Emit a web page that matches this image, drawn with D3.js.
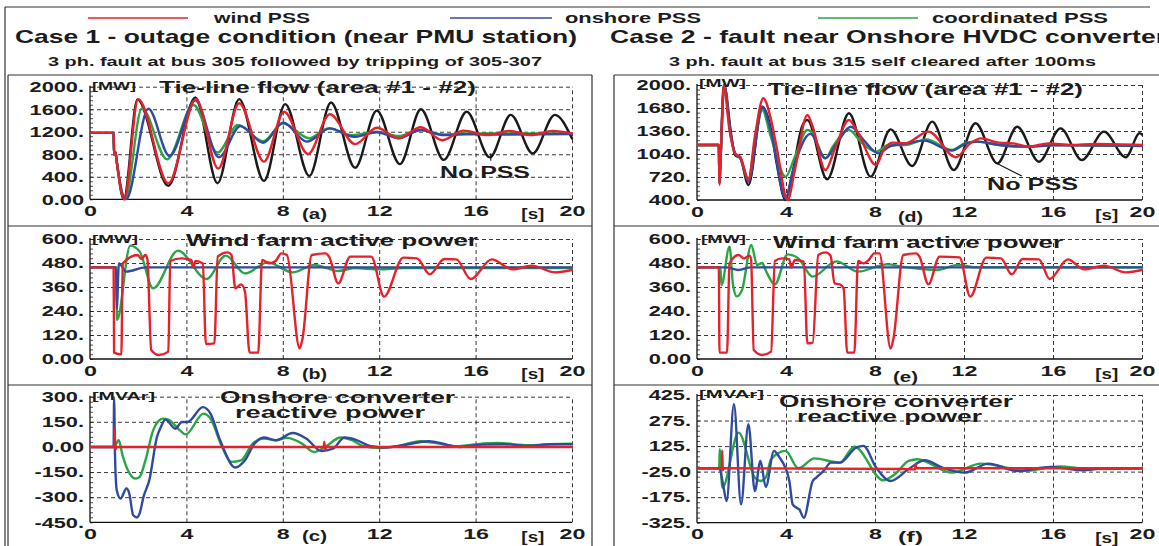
<!DOCTYPE html>
<html><head><meta charset="utf-8">
<script src="https://cdn.jsdelivr.net/npm/d3@7"></script>
<style>
body{margin:0;background:#fff}
svg{display:block}
text{font-family:"Liberation Sans",Arial,sans-serif;font-weight:bold;fill:#1c1c1c}
</style>
</head><body>
<svg id="c" width="1159" height="546"></svg>
<script>
// ---------------- DATA ----------------
const seriesNames = ["wind PSS", "onshore PSS", "coordinated PSS"];
const xTickVals = [0, 4, 8, 12, 16, 20];
const xTickLabels = ["0", "4", "8", "12", "16", "20"];

const yTicksA = [2000, 1600, 1200, 800, 400, 0];
const yLabelsA = ["2000.", "1600.", "1200.", "800.", "400.", "0.00"];
const yTicksB = [600, 480, 360, 240, 120, 0];
const yLabelsB = ["600.", "480.", "360.", "240.", "120.", "0.00"];
const yTicksC = [300, 150, 0, -150, -300, -450];
const yLabelsC = ["300.", "150.", "0.00", "-150.", "-300.", "-450."];
const yTicksD = [2000, 1680, 1360, 1040, 720, 400];
const yLabelsD = ["2000.", "1680.", "1360.", "1040.", "720.", "400."];
const yTicksF = [425, 275, 125, -25, -175, -325];
const yLabelsF = ["425.", "275.", "125.", "-25.0", "-175.", "-325."];

// (a) tie-line flow, case 1  [t(s), MW]
const aNoPss = [[0,1180],[0.98,1180],[1.0,790],[1.06,830],[1.1,700],[1.4,0],[1.97,1775],[3.25,240],[4.37,1810],[5.29,285],[6.19,1780],[7.22,325],[8.1,1690],[9.1,415],[10.0,1720],[11.0,560],[11.9,1575],[12.86,625],[13.73,1600],[14.68,700],[15.63,1555],[16.59,745],[17.46,1500],[18.37,815],[19.29,1500],[20,1080]];
const aWind = [[0,1180],[0.98,1180],[1.0,790],[1.06,830],[1.1,700],[1.42,0],[2.0,1780],[3.25,285],[4.4,1780],[5.32,545],[6.19,1705],[7.22,670],[8.05,1555],[9.05,805],[9.95,1510],[11.0,980],[11.9,1270],[12.8,1085],[13.73,1280],[14.6,1050],[15.5,1220],[16.5,1140],[17.4,1215],[18.3,1140],[19.2,1215],[20,1170]];
const aOnshore = [[0,1180],[0.98,1180],[1.0,790],[1.06,830],[1.1,700],[1.5,0],[2.42,1610],[3.3,770],[4.37,1760],[5.35,745],[6.24,1300],[7.19,1005],[8.02,1360],[9.0,1025],[9.95,1260],[10.95,1110],[11.9,1190],[12.8,1085],[13.73,1230],[14.68,1140],[15.63,1155],[16.5,1150],[20,1160]];
const aCoord = [[0,1180],[0.98,1180],[1.0,790],[1.06,830],[1.1,700],[1.45,0],[2.15,1615],[3.2,710],[4.29,1675],[5.29,830],[6.14,1320],[7.19,1030],[8.0,1350],[9.1,1085],[9.9,1260],[10.87,1140],[11.9,1200],[12.8,1125],[13.73,1230],[14.68,1150],[15.6,1170],[20,1170]];
const aPointer = [[16.63,816],[16.63,686]];

// (b) wind farm active power, case 1  [t, MW]
const bWind = [[0,458],[0.98,458],[1.0,32],[1.3,23],[1.36,478],[1.98,520],[2.13,500],[2.3,520],[2.38,500],[2.54,45],[2.86,20],[3.25,37],[3.33,490],[3.8,503],[4.2,495],[4.29,457],[4.38,490],[4.68,478],[4.81,75],[5.16,78],[5.3,512],[5.71,533],[5.87,520],[6.03,353],[6.27,373],[6.43,337],[6.62,32],[6.98,32],[7.14,495],[7.45,478],[7.7,490],[7.94,528],[8.17,520],[8.7,53],[8.82,103],[9.2,520],[9.76,528],[9.92,512],[10.3,378],[10.8,512],[11.67,512],[12.2,312],[13.0,507],[13.57,503],[14.1,423],[14.7,500],[15.2,498],[15.8,400],[16.67,498],[17.54,448],[18.33,467],[19.3,433],[20,445]];
const bOnshore = [[0,458],[1.08,458],[1.11,253],[1.2,478],[1.5,437],[2.3,458],[20,458]];
const bCoord = [[0,458],[1.1,458],[1.12,195],[1.67,567],[2.06,537],[2.62,353],[3.65,542],[4.84,400],[5.63,517],[6.43,428],[7.38,483],[8.41,433],[9.3,470],[10.3,440],[11.0,455],[12.0,448],[13.0,455],[20,455]];

// (c) onshore converter reactive power, case 1  [t, MVAr]
const cWind = [[0,0],[1.0,0],[1.02,110],[1.05,-16],[1.1,0],[9.7,0],[9.72,30],[9.76,-16],[9.8,0],[20,0]];
const cOnshore = [[0,0],[0.98,0],[1.0,290],[1.04,-60],[1.11,-258],[1.27,-308],[1.51,-248],[1.63,-278],[1.79,-407],[1.95,-421],[2.06,-397],[2.22,-298],[2.46,-199],[2.78,60],[2.94,119],[3.13,163],[3.54,109],[3.81,149],[4.05,149],[4.68,238],[5.0,199],[5.4,40],[6.03,-123],[6.43,-80],[6.83,20],[7.22,56],[7.7,40],[8.41,83],[8.97,50],[9.6,-24],[10.08,-10],[10.56,56],[11.0,44],[11.67,4],[12.3,-4],[13.0,10],[14.05,34],[14.8,14],[15.3,0],[16.27,14],[17.2,16],[18.2,6],[19.1,16],[20,16]];
const cCoord = [[0,0],[1.0,0],[1.19,40],[1.35,-50],[1.9,-189],[2.06,-179],[2.3,-80],[2.62,99],[3.02,169],[3.25,163],[3.73,99],[3.97,75],[4.71,199],[5.0,169],[5.48,0],[5.87,-89],[6.27,-80],[6.75,20],[7.22,50],[7.7,40],[8.17,54],[8.8,20],[9.29,-30],[9.76,0],[10.4,56],[10.87,40],[11.35,4],[12.0,-6],[12.8,6],[13.7,34],[14.5,20],[15.15,4],[16.27,20],[16.9,24],[18.2,10],[19.1,16],[20,20]];

// (d) tie-line flow, case 2  [t, MW]
const dNoPss = [[0,1165],[0.98,1165],[1.01,632],[1.05,900],[1.22,2000],[1.54,1304],[1.71,1026],[1.95,980],[2.31,609],[2.93,1698],[3.33,1374],[3.58,910],[3.98,400],[4.23,678],[4.72,1420],[4.96,1513],[5.85,688],[6.83,1606],[7.8,725],[8.7,1383],[9.67,873],[10.57,1490],[11.54,817],[12.52,1467],[13.5,910],[14.39,1420],[15.37,933],[16.34,1397],[17.3,956],[18.29,1351],[19.27,994],[19.9,1330],[20,1310]];
const dWind = [[0,1165],[0.98,1165],[1.01,609],[1.05,900],[1.2,2000],[1.46,1374],[1.71,1049],[1.95,1000],[2.31,678],[2.6,1281],[2.98,1815],[3.33,1513],[3.6,1100],[4.07,400],[4.4,817],[4.96,1583],[5.2,1420],[5.77,817],[6.18,1096],[6.83,1513],[7.24,1330],[8.05,887],[8.39,1096],[8.78,1198],[9.35,1188],[10.4,1351],[11.63,994],[12.28,1188],[12.76,1258],[13.57,1198],[14.2,1188],[14.9,1142],[15.8,1188],[16.8,1165],[17.9,1180],[20,1165]];
const dOnshore = [[0,1165],[0.98,1165],[1.01,632],[1.05,900],[1.22,2000],[1.5,1330],[1.71,1049],[1.95,980],[2.31,655],[2.94,1698],[3.33,1350],[3.98,423],[4.3,800],[5.1,1320],[5.77,980],[6.3,1200],[6.91,1420],[7.5,1230],[8.14,1049],[8.7,1150],[9.5,1190],[10.2,1226],[11.46,1087],[12.1,1188],[12.6,1212],[13.6,1165],[14.9,1142],[16,1160],[20,1155]];
const dCoord = [[0,1165],[0.98,1165],[1.01,632],[1.05,900],[1.22,2000],[1.5,1330],[1.71,1049],[1.95,980],[2.31,701],[2.6,1200],[2.94,1652],[3.3,1300],[3.98,725],[4.4,1000],[4.96,1374],[5.15,1350],[5.77,980],[6.1,1140],[6.83,1374],[7.4,1200],[8.05,1073],[8.6,1165],[9.35,1165],[10.3,1244],[11.46,1096],[12.1,1198],[12.6,1212],[13.6,1165],[14.9,1142],[16.0,1165],[20,1151]];
const dPointer = [[13.44,915],[14.6,734]];

// (e) wind farm active power, case 2  [t, MW]
const eWind = [[0,458],[0.98,458],[1.01,32],[1.35,32],[1.46,478],[1.87,520],[2.1,503],[2.36,517],[2.43,500],[2.55,45],[2.93,20],[3.33,37],[3.5,490],[3.82,503],[4.15,498],[4.23,457],[4.4,495],[4.8,487],[4.96,78],[5.2,82],[5.45,520],[5.77,533],[6.0,517],[6.18,378],[6.42,373],[6.59,353],[6.75,32],[7.07,32],[7.24,490],[7.48,478],[7.72,495],[7.97,528],[8.2,528],[8.7,53],[8.83,103],[9.27,520],[9.84,528],[10.0,512],[10.4,373],[10.9,512],[11.8,508],[12.28,312],[13.0,507],[13.66,503],[14.15,423],[14.63,500],[15.37,498],[15.85,400],[16.67,498],[17.4,448],[18.3,467],[19.27,433],[20,445]];
const eOnshore = [[0,458],[1.3,458],[1.87,445],[2.4,458],[20,458]];
const eCoord = [[0,458],[1.05,458],[1.1,370],[1.46,562],[1.62,370],[1.79,313],[2.03,347],[2.44,570],[2.7,470],[2.93,480],[3.1,440],[3.5,373],[4.07,523],[4.55,503],[5.2,412],[6.26,488],[7.24,437],[8.54,473],[9.3,460],[10.8,445],[11.7,470],[12.6,458],[20,458]];

// (f) onshore converter reactive power, case 2  [t, MVAr]
const fWind = [[0,-5],[1.0,-5],[1.12,-5],[1.13,100],[1.16,-17],[1.2,-5],[9.3,-10],[9.8,-12],[9.82,18],[9.86,-5],[20,-5]];
const fOnshore = [[0,-5],[1.0,-5],[1.17,-100],[1.33,-198],[1.66,371],[1.98,-217],[2.31,253],[2.6,-139],[2.85,38],[3.09,-115],[3.46,97],[3.7,60],[3.98,-5],[4.15,-80],[4.3,-217],[4.47,-237],[4.6,-247],[4.8,-296],[5.2,-80],[5.36,-60],[5.69,-21],[6.02,28],[6.42,28],[7.15,116],[7.48,126],[8.05,-1],[8.7,-80],[9.5,-11],[10.24,42],[11.0,0],[12.03,-31],[13.1,22],[14.4,-21],[15.9,2],[17.3,-17],[18.3,-5],[20,-5]];
const fCoord = [[0,-5],[1.0,-5],[1.02,106],[1.14,-119],[1.87,204],[2.6,-60],[2.85,-80],[3.09,-60],[3.33,48],[3.98,97],[4.55,-5],[5.28,53],[6.42,28],[7.07,122],[8.37,-76],[8.9,-40],[9.51,38],[9.9,48],[11.46,-31],[12.76,22],[14.05,-5],[14.65,-21],[16.3,5],[17.6,-10],[20,-5]];

// ---------------- DRAW ----------------
const W = 1159, H = 546;
const COL = {wind:"#e6212b", onshore:"#2f4b9f", coord:"#2aa545", nopss:"#1a1a1a"};
const svg = d3.select("#c");
svg.append("rect").attr("width", W).attr("height", H).attr("fill", "#fff");

function stretchText(t, opt) {
  const node = t.node();
  const w = node.getComputedTextLength();
  const L = opt.width != null ? opt.width : w * (opt.sx || 1.45);
  t.attr("textLength", L).attr("lengthAdjust", "spacingAndGlyphs");
  return L;
}
function T(g, str, x, y, size, opt = {}) {
  const t = g.append("text").attr("x", x).attr("y", y).attr("text-anchor", "start")
    .style("font-size", size + "px").text(str);
  const L = stretchText(t, opt);
  if (opt.anchor === "end") t.attr("x", x - L);
  else if (opt.anchor === "middle") t.attr("x", x - L / 2);
  return t;
}

// outer frame lines
const frame = svg.append("g").attr("stroke", "#333").attr("fill", "none");
frame.append("line").attr("x1", 5).attr("x2", 1150).attr("y1", 7).attr("y2", 7).attr("stroke-width", 1.2);
frame.append("line").attr("x1", 5).attr("x2", 5).attr("y1", 7).attr("y2", H).attr("stroke-width", 1.2);
[[8, 592], [614, W + 5]].forEach(([l, r]) => {
  frame.append("line").attr("x1", l).attr("x2", l).attr("y1", 75).attr("y2", H).attr("stroke-width", 1.2);
  if (r < W) frame.append("line").attr("x1", r).attr("x2", r).attr("y1", 75).attr("y2", H).attr("stroke-width", 1.2);
  [75, 226, 385].forEach(yy => frame.append("line").attr("x1", l).attr("x2", r).attr("y1", yy).attr("y2", yy).attr("stroke-width", 1.2));
});

// legend
const leg = svg.append("g");
const legendItems = [
  {name: seriesNames[0], c: COL.wind, lx: [88, 188], tx: 214, tw: 96},
  {name: seriesNames[1], c: COL.onshore, lx: [450, 552], tx: 565, tw: 136},
  {name: seriesNames[2], c: COL.coord, lx: [818, 918], tx: 932, tw: 176}
];
legendItems.forEach(d => {
  leg.append("line").attr("x1", d.lx[0]).attr("x2", d.lx[1]).attr("y1", 18).attr("y2", 18)
    .attr("stroke", d.c).attr("stroke-width", 1.6);
  T(leg, d.name, d.tx, 23, 14, {width: d.tw});
});

// titles
T(svg, "Case 1 - outage condition (near PMU station)", 15, 43, 19, {width: 562});
T(svg, "3 ph. fault at bus 305 followed by tripping of 305-307", 48, 66, 13, {width: 494});
T(svg, "Case 2 - fault near Onshore HVDC converter", 610, 43, 19, {width: 556});
T(svg, "3 ph. fault at bus 315 self cleared after 100ms", 669, 66, 13, {width: 427});

function panel(cfg) {
  const x = d3.scaleLinear().domain([0, 20]).range([cfg.x0, cfg.x1]);
  const y = d3.scaleLinear().domain([cfg.ymin, cfg.ymax]).range([cfg.y1, cfg.y0]);
  const g = svg.append("g");
  const pw = cfg.x1 - cfg.x0, ph = cfg.y1 - cfg.y0;

  // horizontal grid (dashed)
  const gy = g.append("g").attr("transform", `translate(${cfg.x0},0)`)
    .call(d3.axisLeft(y).tickValues(cfg.yticks.filter(v => v !== cfg.ymin)).tickSize(-pw).tickFormat(""));
  gy.select(".domain").remove();
  gy.selectAll("line").attr("stroke", "#222").attr("stroke-width", 0.9).attr("stroke-dasharray", "4,3");
  // vertical grid (dashed)
  const gx = g.append("g").attr("transform", `translate(0,${cfg.y1})`)
    .call(d3.axisBottom(x).tickValues(xTickVals.filter(v => v > 0)).tickSize(-ph).tickFormat(""));
  gx.select(".domain").remove();
  gx.selectAll("line").attr("stroke", "#222").attr("stroke-width", 0.9).attr("stroke-dasharray", "4,3");

  // minor ticks on y axis
  const minor = [];
  const step = (cfg.ymax - cfg.ymin) / 5 / 5;
  for (let i = 0; i <= 25; i++) minor.push(cfg.ymin + i * step);
  const gm = g.append("g").attr("transform", `translate(${cfg.x0},0)`)
    .call(d3.axisRight(y).tickValues(minor).tickSize(3).tickFormat(""));
  gm.select(".domain").remove();
  gm.selectAll("line").attr("stroke", "#222").attr("stroke-width", 0.8);

  // solid axes
  g.append("line").attr("x1", cfg.x0).attr("x2", cfg.x0).attr("y1", cfg.y0 - 1).attr("y2", cfg.y1).attr("stroke", "#111").attr("stroke-width", 1.3);
  g.append("line").attr("x1", cfg.x0).attr("x2", cfg.x1).attr("y1", cfg.y1).attr("y2", cfg.y1).attr("stroke", "#111").attr("stroke-width", 1.3);

  // y tick labels
  const ly = g.append("g").attr("transform", `translate(${cfg.x0},0)`)
    .call(d3.axisLeft(y).tickValues(cfg.yticks).tickSize(0).tickPadding(6).tickFormat((d, i) => cfg.ylabels[i]));
  ly.select(".domain").remove();
  ly.selectAll("text").each(function () {
    const t = d3.select(this).attr("font-size", null).attr("font-family", null)
      .style("font-size", "15px").attr("text-anchor", "start");
    const L = stretchText(t, {sx: 1.45});
    t.attr("x", -6 - L);
  });
  // x tick labels
  const lx = g.append("g").attr("transform", `translate(0,${cfg.y1})`)
    .call(d3.axisBottom(x).tickValues(xTickVals).tickSize(0).tickPadding(6).tickFormat((d, i) => xTickLabels[i]));
  lx.select(".domain").remove();
  lx.selectAll("text").each(function () {
    const t = d3.select(this).attr("font-size", null).attr("font-family", null)
      .style("font-size", "15px").attr("text-anchor", "start");
    const L = stretchText(t, {sx: 1.55});
    t.attr("x", -L / 2);
  });

  // series
  const clipId = "clip" + cfg.id;
  svg.append("clipPath").attr("id", clipId).append("rect")
    .attr("x", cfg.x0).attr("y", cfg.y0 - 1.5).attr("width", pw + 1.5).attr("height", ph + 3);
  const line = d3.line().x(d => x(d[0])).y(d => y(d[1])).curve(d3.curveMonotoneX);
  const sg = g.append("g").attr("clip-path", `url(#${clipId})`).attr("fill", "none")
    .attr("stroke-linejoin", "round").attr("stroke-linecap", "round");
  cfg.series.forEach(s => sg.append("path").attr("d", line(s.data)).attr("stroke", s.c).attr("stroke-width", 2.4));
  if (cfg.pointer) g.append("path").attr("d", d3.line().x(d => x(d[0])).y(d => y(d[1]))(cfg.pointer))
    .attr("stroke", "#111").attr("stroke-width", 1.1).attr("fill", "none");

  // labels
  T(g, cfg.unit, cfg.unitX, cfg.unitY, 11, {width: cfg.unitW});
  cfg.titles.forEach(tt => T(g, tt.s, tt.x, tt.y, 16, {width: tt.w}));
  if (cfg.nopss) T(g, "No PSS", cfg.nopss.x, cfg.nopss.y, 16, {width: cfg.nopss.w});
  T(g, "[s]", x(17.9), cfg.y1 + 20, 15, {width: 23});
  T(g, cfg.tag, cfg.tagX, cfg.tagY, 14, {width: 25});
}

const L0 = 90, L1 = 572, R0 = 697, R1 = 1142;
panel({id: "a", x0: L0, x1: L1, y0: 86.7, y1: 199.3, ymin: 0, ymax: 2000, yticks: yTicksA, ylabels: yLabelsA,
  series: [{data: aNoPss, c: COL.nopss}, {data: aCoord, c: COL.coord}, {data: aOnshore, c: COL.onshore}, {data: aWind, c: COL.wind}],
  pointer: aPointer, unit: "[MW]", unitX: 92, unitY: 90, unitW: 44,
  titles: [{s: "Tie-line flow (area #1 - #2)", x: 159, y: 93, w: 317}],
  nopss: {x: 440, y: 178, w: 90}, tag: "(a)", tagX: 302, tagY: 219});
panel({id: "b", x0: L0, x1: L1, y0: 239, y1: 359, ymin: 0, ymax: 600, yticks: yTicksB, ylabels: yLabelsB,
  series: [{data: bCoord, c: COL.coord}, {data: bOnshore, c: COL.onshore}, {data: bWind, c: COL.wind}],
  unit: "[MW]", unitX: 92, unitY: 243, unitW: 46,
  titles: [{s: "Wind farm active power", x: 186, y: 246, w: 292}],
  tag: "(b)", tagX: 302, tagY: 379});
panel({id: "c", x0: L0, x1: L1, y0: 396.7, y1: 522.3, ymin: -450, ymax: 300, yticks: yTicksC, ylabels: yLabelsC,
  series: [{data: cCoord, c: COL.coord}, {data: cOnshore, c: COL.onshore}, {data: cWind, c: COL.wind}],
  unit: "[MVAr]", unitX: 92, unitY: 400, unitW: 63,
  titles: [{s: "Onshore converter", x: 220, y: 403, w: 235}, {s: "reactive power", x: 235, y: 418, w: 190}],
  tag: "(c)", tagX: 302, tagY: 541});
panel({id: "d", x0: R0, x1: R1, y0: 85, y1: 200, ymin: 400, ymax: 2000, yticks: yTicksD, ylabels: yLabelsD,
  series: [{data: dNoPss, c: COL.nopss}, {data: dCoord, c: COL.coord}, {data: dOnshore, c: COL.onshore}, {data: dWind, c: COL.wind}],
  pointer: dPointer, unit: "[MW]", unitX: 699, unitY: 87, unitW: 47,
  titles: [{s: "Tie-line flow (area #1 - #2)", x: 768, y: 95, w: 315}],
  nopss: {x: 987, y: 190, w: 91}, tag: "(d)", tagX: 898, tagY: 222});
panel({id: "e", x0: R0, x1: R1, y0: 239, y1: 359, ymin: 0, ymax: 600, yticks: yTicksB, ylabels: yLabelsB,
  series: [{data: eCoord, c: COL.coord}, {data: eOnshore, c: COL.onshore}, {data: eWind, c: COL.wind}],
  unit: "[MW]", unitX: 701, unitY: 243, unitW: 45,
  titles: [{s: "Wind farm active power", x: 773, y: 248, w: 290}],
  tag: "(e)", tagX: 893, tagY: 382});
panel({id: "f", x0: R0, x1: R1, y0: 395, y1: 522.7, ymin: -325, ymax: 425, yticks: yTicksF, ylabels: yLabelsF,
  series: [{data: fCoord, c: COL.coord}, {data: fOnshore, c: COL.onshore}, {data: fWind, c: COL.wind}],
  unit: "[MVAr]", unitX: 699, unitY: 398, unitW: 65,
  titles: [{s: "Onshore converter", x: 779, y: 407, w: 234}, {s: "reactive power", x: 797, y: 422, w: 185}],
  tag: "(f)", tagX: 898, tagY: 542});
</script>
</body></html>
